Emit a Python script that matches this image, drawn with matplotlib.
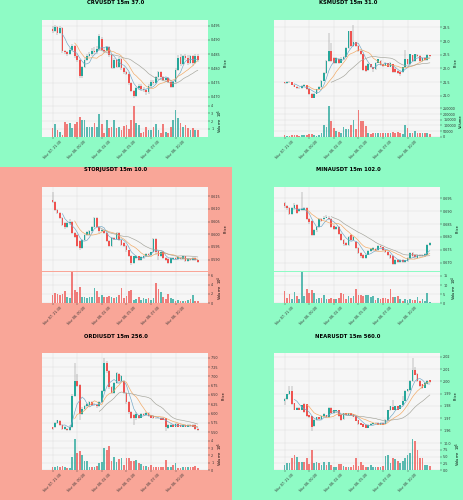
import matplotlib
matplotlib.use('Agg')
import matplotlib.pyplot as plt
from matplotlib.ticker import MultipleLocator, MaxNLocator, FormatStrFormatter
import numpy as np
import pandas as pd

# ── shared x axis (15m candles) ───────────────────────────────
xtick_pos = [0, 10, 20, 30, 40, 50]
xtick_labels = ['Nov 07, 21:30', 'Nov 08, 00:00', 'Nov 08, 02:30',
                'Nov 08, 05:00', 'Nov 08, 07:30', 'Nov 08, 10:00']

# ── CRVUSDT ───────────────────────────────────────────────────
crv_open = [.4940, .4930, .4945, .4925, .4942, .4860, .4856, .4850, .4864, .4878,
            .4842, .4828, .4772, .4806, .4830, .4845, .4850, .4862, .4856, .4868,
            .4905, .4866, .4862, .4874, .4846, .4802, .4830, .4806, .4834, .4800,
            .4786, .4782, .4748, .4722, .4702, .4730, .4740, .4728, .4724, .4718,
            .4740, .4752, .4748, .4770, .4786, .4770, .4760, .4766, .4754, .4736,
            .4752, .4796, .4840, .4816, .4842, .4838, .4818, .4842, .4818, .4844]
crv_close = [.4930, .4945, .4925, .4942, .4860, .4856, .4850, .4864, .4878, .4842,
             .4828, .4772, .4806, .4830, .4845, .4850, .4862, .4856, .4868, .4914,
             .4866, .4862, .4874, .4846, .4802, .4830, .4806, .4834, .4800, .4786,
             .4782, .4748, .4722, .4702, .4730, .4740, .4728, .4724, .4718, .4740,
             .4752, .4748, .4770, .4786, .4770, .4760, .4766, .4754, .4736, .4752,
             .4796, .4836, .4816, .4842, .4838, .4818, .4842, .4818, .4844, .4828]
crv_high = [.4948, .4952, .4950, .4948, .4945, .4866, .4860, .4870, .4885, .4882,
            .4850, .4832, .4810, .4836, .4852, .4858, .4870, .4875, .4880, .4920,
            .4910, .4872, .4880, .4878, .4850, .4836, .4834, .4840, .4838, .4806,
            .4792, .4786, .4752, .4726, .4735, .4746, .4744, .4734, .4728, .4744,
            .4758, .4758, .4774, .4790, .4790, .4774, .4770, .4770, .4758, .4756,
            .4800, .4848, .4850, .4848, .4850, .4846, .4848, .4846, .4850, .4852]
crv_low = [.4925, .4928, .4918, .4920, .4855, .4850, .4845, .4846, .4860, .4838,
           .4822, .4768, .4768, .4800, .4826, .4840, .4845, .4850, .4850, .4862,
           .4860, .4855, .4858, .4840, .4798, .4798, .4800, .4802, .4795, .4780,
           .4776, .4742, .4716, .4696, .4700, .4725, .4722, .4718, .4706, .4712,
           .4736, .4742, .4744, .4766, .4764, .4756, .4754, .4748, .4730, .4732,
           .4748, .4790, .4810, .4812, .4830, .4812, .4814, .4810, .4814, .4822]
crv_vol = [1.1, 1.65, 0.8, 0.65, 0.2, 1.95, 1.65, 1.75, 1.1, 1.6,
           1.95, 2.5, 2.2, 2.1, 1.3, 1.3, 1.2, 1.8, 1.3, 2.9,
           1.65, 0.5, 2.1, 1.1, 1.2, 2.1, 1.1, 1.2, 0.9, 1.4,
           1.5, 0.95, 2.2, 4.0, 1.75, 1.5, 0.45, 0.65, 1.2, 0.8,
           0.9, 1.2, 1.65, 0.8, 0.5, 1.6, 0.6, 0.45, 1.3, 2.1,
           3.4, 2.4, 1.75, 1.3, 1.5, 1.1, 0.9, 1.1, 0.8, 0.9]

# ── KSMUSDT ───────────────────────────────────────────────────
ksm_open = [21.49, 21.47, 21.50, 21.49, 21.41, 21.33, 21.28, 21.27, 21.36, 21.38,
            21.24, 21.08, 20.94, 21.08, 21.24, 21.32, 21.56, 21.83, 22.27, 22.63,
            22.39, 22.21, 22.36, 22.21, 22.33, 22.43, 22.75, 23.35, 22.83, 22.95,
            22.81, 22.63, 22.51, 22.10, 21.95, 22.16, 22.04, 21.98, 22.21, 22.27,
            22.16, 22.10, 22.19, 22.07, 22.16, 21.98, 21.92, 21.88, 21.86, 22.04,
            22.33, 22.16, 22.48, 22.27, 22.48, 22.45, 22.27, 22.39, 22.31, 22.48]
ksm_close = [21.47, 21.50, 21.49, 21.41, 21.33, 21.28, 21.27, 21.36, 21.40, 21.24,
             21.08, 20.94, 21.08, 21.24, 21.32, 21.56, 21.83, 22.27, 22.63, 22.27,
             22.21, 22.39, 22.21, 22.36, 22.43, 22.75, 23.35, 22.83, 22.95, 22.81,
             22.63, 22.51, 21.95, 21.92, 22.16, 22.04, 21.98, 22.21, 22.33, 22.12,
             22.10, 22.21, 22.07, 22.19, 21.88, 21.86, 21.83, 21.80, 22.04, 22.33,
             22.16, 22.51, 22.27, 22.51, 22.45, 22.27, 22.39, 22.31, 22.48, 22.45]
ksm_high = [21.52, 21.53, 21.53, 21.50, 21.42, 21.35, 21.31, 21.38, 21.42, 21.40,
            21.26, 21.10, 21.10, 21.26, 21.35, 21.58, 21.86, 22.30, 23.31, 22.93,
            22.42, 22.42, 22.39, 22.40, 22.46, 22.78, 23.38, 23.36, 23.58, 22.98,
            22.84, 22.66, 22.54, 22.12, 22.19, 22.18, 22.06, 22.24, 22.36, 22.30,
            22.18, 22.24, 22.21, 22.22, 22.18, 22.00, 21.94, 21.90, 22.06, 22.69,
            22.36, 22.54, 22.50, 22.54, 22.52, 22.48, 22.42, 22.42, 22.52, 22.50]
ksm_low = [21.44, 21.45, 21.47, 21.39, 21.31, 21.26, 21.25, 21.25, 21.34, 21.22,
           21.05, 20.92, 20.92, 21.06, 21.22, 21.30, 21.54, 21.80, 22.25, 22.24,
           22.18, 22.18, 22.18, 22.19, 22.30, 22.40, 22.72, 22.80, 22.80, 22.78,
           22.60, 22.48, 21.92, 21.86, 21.92, 22.00, 21.86, 21.96, 22.19, 22.10,
           22.06, 22.08, 22.04, 22.05, 21.85, 21.83, 21.80, 21.72, 21.83, 22.02,
           22.13, 22.14, 22.24, 22.25, 22.42, 22.24, 22.25, 22.29, 22.29, 22.43]
ksm_vol = [15000, 9000, 9000, 15000, 15000, 12000, 9000, 12000, 18000, 15000,
           24000, 24000, 12000, 9000, 15000, 30000, 104000, 83000, 274000, 134000,
           75000, 54000, 45000, 36000, 83000, 66000, 66000, 104000, 143000, 66000,
           238000, 134000, 134000, 95000, 36000, 24000, 36000, 30000, 36000, 36000,
           36000, 30000, 30000, 36000, 45000, 36000, 45000, 30000, 24000, 104000,
           75000, 36000, 30000, 54000, 36000, 36000, 30000, 30000, 30000, 24000]

# ── STORJUSDT ─────────────────────────────────────────────────
storj_open = [.6134, .6128, .6095, .6082, .6063, .6043, .6028, .6043, .6050, .6004,
              .5998, .5972, .5946, .5978, .5998, .5998, .6011, .6030, .6063, .6030,
              .6011, .6013, .6004, .5972, .5952, .5985, .5981, .6004, .5978, .5965,
              .5955, .5937, .5916, .5887, .5907, .5913, .5897, .5907, .5916, .5922,
              .5920, .5929, .5981, .5933, .5916, .5929, .5907, .5903, .5887, .5903,
              .5907, .5903, .5907, .5903, .5913, .5894, .5903, .5900, .5906, .5897]
storj_close = [.6128, .6095, .6082, .6063, .6037, .6028, .6043, .6050, .6004, .5991,
               .5952, .5946, .5978, .5998, .6007, .6011, .6030, .6063, .6030, .6011,
               .6017, .6004, .5972, .5952, .5985, .5981, .6004, .5978, .5959, .5955,
               .5937, .5916, .5887, .5913, .5913, .5897, .5911, .5916, .5922, .5920,
               .5929, .5981, .5929, .5916, .5929, .5907, .5900, .5887, .5907, .5907,
               .5903, .5910, .5903, .5913, .5894, .5903, .5900, .5906, .5897, .5891]
storj_high = [.6167, .6132, .6100, .6086, .6066, .6048, .6048, .6060, .6054, .6008,
              .6002, .5976, .5982, .6002, .6012, .6016, .6034, .6068, .6066, .6034,
              .6022, .6018, .6008, .5976, .5990, .5990, .6008, .6008, .5982, .5968,
              .5958, .5940, .5920, .5916, .5918, .5916, .5914, .5920, .5926, .5926,
              .5932, .5984, .5984, .5936, .5932, .5932, .5910, .5906, .5910, .5910,
              .5910, .5914, .5910, .5916, .5916, .5906, .5906, .5910, .5910, .5900]
storj_low = [.6124, .6090, .6078, .6058, .6032, .6022, .6024, .6038, .6000, .5986,
             .5948, .5940, .5942, .5974, .5994, .5994, .6006, .6026, .6026, .6006,
             .6008, .6000, .5968, .5948, .5948, .5976, .5978, .5974, .5955, .5950,
             .5932, .5910, .5880, .5882, .5904, .5894, .5894, .5904, .5912, .5916,
             .5916, .5926, .5920, .5900, .5912, .5904, .5896, .5884, .5884, .5900,
             .5900, .5900, .5900, .5900, .5890, .5890, .5896, .5896, .5894, .5888]
storj_vol = [1.8, 2.2, 2.05, 1.8, 2.05, 2.55, 1.3, 1.2, 6.6, 2.9,
             2.35, 3.5, 1.3, 1.25, 1.1, 1.3, 1.45, 3.3, 2.55, 1.45,
             1.8, 1.45, 1.3, 1.6, 1.45, 1.1, 1.3, 1.8, 3.3, 1.1,
             1.6, 2.55, 2.8, 0.75, 0.9, 1.3, 0.75, 1.1, 0.9, 1.1,
             0.75, 1.1, 4.25, 3.1, 2.35, 1.45, 0.9, 2.05, 1.1, 0.9,
             0.6, 0.75, 0.6, 0.6, 0.6, 0.75, 0.9, 1.8, 0.6, 0.4]

# ── MINAUSDT ──────────────────────────────────────────────────
mina_open = [.6931, .6919, .6912, .6888, .6912, .6925, .6900, .6904, .6906, .6912,
             .6869, .6862, .6809, .6825, .6838, .6869, .6869, .6875, .6875, .6869,
             .6844, .6831, .6838, .6812, .6788, .6775, .6769, .6809, .6788, .6781,
             .6756, .6738, .6731, .6719, .6731, .6746, .6750, .6754, .6750, .6765,
             .6759, .6750, .6741, .6731, .6725, .6696, .6712, .6704, .6712, .6704,
             .6706, .6719, .6738, .6731, .6719, .6731, .6725, .6728, .6731, .6769]
mina_close = [.6919, .6912, .6888, .6912, .6925, .6894, .6909, .6909, .6912, .6869,
              .6856, .6809, .6825, .6838, .6869, .6862, .6875, .6879, .6869, .6838,
              .6831, .6838, .6812, .6788, .6771, .6769, .6800, .6788, .6800, .6756,
              .6738, .6725, .6719, .6731, .6746, .6754, .6756, .6746, .6765, .6759,
              .6750, .6741, .6731, .6719, .6696, .6712, .6704, .6712, .6704, .6709,
              .6719, .6738, .6725, .6721, .6731, .6725, .6731, .6734, .6769, .6775]
mina_high = [.6936, .6922, .6915, .6916, .6930, .6928, .6914, .6975, .6916, .6915,
             .6872, .6866, .6830, .6842, .6872, .6874, .6880, .6884, .6880, .6872,
             .6848, .6842, .6842, .6816, .6792, .6780, .6804, .6812, .6804, .6785,
             .6760, .6742, .6734, .6734, .6750, .6758, .6760, .6758, .6770, .6768,
             .6762, .6754, .6744, .6734, .6728, .6716, .6715, .6715, .6715, .6712,
             .6722, .6742, .6742, .6734, .6734, .6734, .6734, .6736, .6772, .6780]
mina_low = [.6914, .6906, .6884, .6884, .6906, .6890, .6896, .6900, .6900, .6864,
            .6850, .6804, .6804, .6820, .6834, .6858, .6864, .6872, .6864, .6834,
            .6826, .6826, .6808, .6784, .6766, .6764, .6764, .6784, .6784, .6752,
            .6734, .6720, .6714, .6714, .6728, .6742, .6746, .6742, .6746, .6756,
            .6746, .6736, .6726, .6714, .6692, .6692, .6700, .6700, .6700, .6700,
            .6702, .6716, .6720, .6716, .6716, .6720, .6722, .6724, .6728, .6766]
mina_vol = [6.6, 2.8, 5.3, 2.3, 6.0, 4.2, 2.3, 17.0, 3.8, 7.6,
            5.7, 7.2, 5.7, 2.3, 2.8, 2.8, 4.7, 2.3, 2.3, 2.8,
            2.3, 2.3, 2.8, 5.7, 5.3, 2.3, 3.8, 2.8, 3.8, 7.6,
            4.7, 4.7, 4.2, 4.7, 4.7, 3.4, 3.8, 1.9, 2.8, 2.3,
            2.8, 2.8, 2.3, 7.9, 3.4, 3.4, 4.2, 2.3, 1.5, 2.3,
            1.9, 2.3, 1.9, 1.9, 3.4, 1.5, 2.3, 1.5, 5.7, 1.0]

# ── ORDIUSDT ──────────────────────────────────────────────────
ordi_open = [5.63, 5.63, 5.75, 5.80, 5.69, 5.58, 5.58, 5.56, 5.63, 6.48,
             6.87, 6.78, 6.00, 6.13, 6.19, 6.24, 6.30, 6.22, 6.24, 6.19,
             6.30, 6.61, 7.35, 7.13, 6.70, 6.56, 6.83, 7.06, 6.87, 6.87,
             6.56, 6.30, 6.04, 5.95, 5.87, 5.95, 5.89, 6.00, 5.95, 6.01,
             5.95, 5.93, 5.89, 5.89, 5.89, 5.89, 5.87, 5.60, 5.65, 5.69,
             5.65, 5.72, 5.69, 5.65, 5.69, 5.65, 5.69, 5.69, 5.69, 5.59]
ordi_close = [5.59, 5.75, 5.82, 5.69, 5.58, 5.63, 5.56, 5.65, 6.48, 6.87,
              6.74, 6.00, 6.13, 6.19, 6.26, 6.30, 6.22, 6.24, 6.19, 6.30,
              6.61, 7.35, 7.13, 6.70, 6.56, 6.83, 7.09, 6.87, 7.00, 6.56,
              6.30, 6.04, 5.89, 5.87, 6.00, 5.89, 5.98, 5.95, 6.01, 5.93,
              5.89, 5.87, 5.87, 5.87, 5.84, 5.84, 5.65, 5.69, 5.69, 5.65,
              5.72, 5.65, 5.65, 5.69, 5.65, 5.69, 5.66, 5.65, 5.59, 5.56]
ordi_high = [5.65, 5.77, 5.84, 5.82, 5.71, 5.66, 5.61, 5.70, 6.52, 7.35,
             7.05, 6.80, 6.17, 6.22, 6.28, 6.34, 6.33, 6.28, 6.27, 6.33,
             6.64, 7.48, 7.40, 7.16, 6.73, 6.86, 7.12, 7.08, 7.03, 6.89,
             6.58, 6.33, 6.06, 5.98, 6.03, 5.97, 6.01, 6.02, 6.04, 6.03,
             5.97, 5.95, 5.91, 5.91, 5.91, 5.91, 5.89, 5.72, 5.72, 5.72,
             5.75, 5.74, 5.71, 5.72, 5.71, 5.71, 5.71, 5.71, 5.71, 5.61]
ordi_low = [5.56, 5.61, 5.73, 5.67, 5.56, 5.55, 5.54, 5.54, 5.60, 6.45,
            6.70, 5.84, 5.97, 6.10, 6.15, 6.21, 6.19, 6.19, 6.16, 6.17,
            6.28, 6.58, 7.10, 6.66, 6.52, 6.53, 6.80, 6.84, 6.84, 6.52,
            6.26, 6.00, 5.85, 5.69, 5.84, 5.86, 5.87, 5.93, 5.93, 5.91,
            5.87, 5.85, 5.85, 5.85, 5.82, 5.82, 5.52, 5.58, 5.63, 5.63,
            5.63, 5.63, 5.63, 5.63, 5.63, 5.63, 5.64, 5.63, 5.57, 5.54]
ordi_vol = [0.46, 0.37, 0.55, 0.37, 0.55, 0.37, 0.23, 0.23, 1.84, 4.24,
            2.30, 2.53, 2.07, 1.29, 1.29, 0.46, 0.37, 0.46, 0.55, 0.92,
            1.15, 3.00, 2.76, 3.23, 1.29, 1.84, 1.15, 1.47, 1.61, 0.69,
            1.61, 1.61, 1.29, 1.29, 1.38, 1.01, 0.83, 0.55, 0.55, 0.37,
            0.69, 0.37, 0.37, 0.46, 0.37, 0.37, 1.38, 0.37, 0.46, 0.69,
            1.01, 0.23, 0.23, 0.37, 0.37, 0.46, 0.37, 0.46, 0.55, 0.30]

# ── NEARUSDT ──────────────────────────────────────────────────
near_open = [1.9838, 1.9856, 1.9896, 1.9922, 1.9822, 1.9769, 1.9785, 1.9769, 1.9817, 1.9811,
             1.9724, 1.9716, 1.9636, 1.9684, 1.9706, 1.9690, 1.9716, 1.9724, 1.9706, 1.9785,
             1.9738, 1.9759, 1.9764, 1.9724, 1.9690, 1.9738, 1.9724, 1.9738, 1.9732, 1.9716,
             1.9684, 1.9658, 1.9650, 1.9644, 1.9623, 1.9644, 1.9650, 1.9658, 1.9663, 1.9644,
             1.9663, 1.9652, 1.9684, 1.9764, 1.9790, 1.9769, 1.9795, 1.9777, 1.9803, 1.9843,
             1.9922, 1.9928, 2.0002, 2.0094, 2.0060, 2.0002, 1.9975, 1.9949, 1.9980, 2.0007]
near_close = [1.9856, 1.9896, 1.9922, 1.9817, 1.9769, 1.9785, 1.9769, 1.9803, 1.9751, 1.9716,
              1.9706, 1.9631, 1.9684, 1.9706, 1.9690, 1.9716, 1.9732, 1.9706, 1.9785, 1.9738,
              1.9764, 1.9764, 1.9716, 1.9684, 1.9738, 1.9724, 1.9738, 1.9724, 1.9711, 1.9679,
              1.9652, 1.9644, 1.9631, 1.9623, 1.9644, 1.9652, 1.9658, 1.9663, 1.9644, 1.9663,
              1.9644, 1.9684, 1.9764, 1.9795, 1.9769, 1.9795, 1.9769, 1.9803, 1.9843, 1.9922,
              1.9935, 2.0002, 2.0094, 2.0055, 2.0002, 1.9962, 1.9943, 1.9988, 2.0002, 1.9996]
near_high = [1.9862, 1.9900, 1.9962, 1.9962, 1.9826, 1.9790, 1.9790, 1.9810, 1.9822, 1.9816,
             1.9728, 1.9720, 1.9690, 1.9710, 1.9712, 1.9720, 1.9738, 1.9728, 1.9790, 1.9790,
             1.9770, 1.9770, 1.9768, 1.9728, 1.9742, 1.9742, 1.9742, 1.9742, 1.9736, 1.9720,
             1.9688, 1.9662, 1.9654, 1.9648, 1.9648, 1.9656, 1.9662, 1.9668, 1.9668, 1.9668,
             1.9668, 1.9690, 1.9770, 1.9800, 1.9850, 1.9800, 1.9800, 1.9808, 1.9880, 1.9928,
             1.9940, 2.0008, 2.0187, 2.0120, 2.0065, 2.0008, 1.9980, 1.9995, 2.0008, 2.0012]
near_low = [1.9803, 1.9850, 1.9890, 1.9810, 1.9762, 1.9762, 1.9764, 1.9764, 1.9745, 1.9710,
            1.9700, 1.9591, 1.9630, 1.9680, 1.9685, 1.9685, 1.9712, 1.9700, 1.9700, 1.9732,
            1.9732, 1.9754, 1.9710, 1.9678, 1.9685, 1.9720, 1.9720, 1.9720, 1.9706, 1.9674,
            1.9646, 1.9640, 1.9626, 1.9618, 1.9618, 1.9640, 1.9646, 1.9654, 1.9640, 1.9640,
            1.9640, 1.9648, 1.9680, 1.9760, 1.9764, 1.9764, 1.9764, 1.9772, 1.9798, 1.9838,
            1.9915, 1.9922, 1.9996, 2.0050, 1.9996, 1.9955, 1.9938, 1.9942, 1.9975, 1.9990]
near_vol = [1.9, 2.75, 2.5, 4.4, 5.6, 4.75, 3.1, 3.1, 3.1, 4.4,
            2.25, 7.5, 2.75, 3.1, 2.75, 1.9, 3.1, 1.9, 3.1, 1.9,
            1.25, 1.0, 2.25, 2.25, 1.5, 1.0, 1.25, 1.0, 1.9, 4.4,
            1.5, 3.1, 1.9, 1.25, 1.25, 1.9, 1.25, 1.0, 1.0, 1.0,
            1.5, 5.25, 5.6, 2.5, 4.4, 4.0, 3.5, 2.75, 3.5, 4.4,
            5.6, 6.25, 11.5, 10.6, 7.5, 4.4, 4.4, 1.9, 1.9, 1.5]

BG_GREEN = '#8efbc5'
BG_RED = '#f9a698'
UP = '#26a69a'
DOWN = '#ef5350'
MA_COLORS = ['#6fa6c6', '#f2a65e', '#a3a39a']

plt.rcParams.update({
    'font.family': ['DejaVu Sans'],
    'font.size': 2.6,
    'axes.unicode_minus': False,
})


def draw_panel(sfig, title, o, h, l, c, v, ystep, yfmt, vol_exp, vol_step=None):
    o, h, l, c, v = map(np.asarray, (o, h, l, c, v))
    x = np.arange(len(c))
    up = c >= o
    cols = np.where(up, UP, DOWN)

    sfig.text(0.5, 0.984, title, ha='center', va='center',
              fontsize=3.8, fontweight='bold')

    ax = sfig.add_axes([0.181, 0.372, 0.716, 0.508])
    axv = sfig.add_axes([0.181, 0.18, 0.716, 0.19], sharex=ax)

    for a in (ax, axv):
        a.set_facecolor('#f6f6f6')
        a.grid(True, color='#dadada', linewidth=0.3)
        a.set_axisbelow(True)
        for s in a.spines.values():
            s.set_visible(False)
        a.yaxis.tick_right()
        a.yaxis.set_label_position('right')
        a.tick_params(length=1.2, width=0.3, pad=1.0, labelsize=2.4,
                      colors='#333333')

    # candles
    ax.vlines(x, l, h, color='#777777', linewidth=0.3, zorder=2)
    body = np.maximum(np.abs(c - o), (max(h) - min(l)) * 0.004)
    ax.bar(x, body, bottom=np.minimum(o, c), width=0.7, color=cols,
           linewidth=0, zorder=3)

    # moving averages 5 / 10 / 20
    cs = pd.Series(c)
    for w, mc in zip((5, 10, 20), MA_COLORS):
        ax.plot(x, cs.rolling(w).mean(), color=mc, linewidth=0.45, zorder=4)

    rng = max(h) - min(l)
    ax.set_ylim(min(l) - 0.09 * rng, max(h) + 0.07 * rng)
    ax.yaxis.set_major_locator(MultipleLocator(ystep))
    ax.yaxis.set_major_formatter(FormatStrFormatter(yfmt))
    ax.set_ylabel('Price', fontsize=2.6, labelpad=2)
    ax.set_xlim(-4.3, len(c) + 3.2)
    plt.setp(ax.get_xticklabels(), visible=False)
    ax.tick_params(axis='x', length=0)

    # volume
    axv.bar(x, v, width=0.7, color=cols, alpha=0.75, linewidth=0)
    axv.set_ylim(0, max(v) * 1.02)
    if vol_step:
        axv.yaxis.set_major_locator(MultipleLocator(vol_step))
    else:
        axv.yaxis.set_major_locator(MaxNLocator(5, prune='lower'))
    if vol_exp:
        axv.set_ylabel('Volume  $10^{%d}$' % vol_exp, fontsize=2.6, labelpad=2)
    else:
        axv.set_ylabel('Volume', fontsize=2.6, labelpad=2)

    axv.set_xticks(xtick_pos)
    axv.set_xticklabels(xtick_labels, rotation=45, ha='center')


fig = plt.figure(figsize=(4.64, 5.0), dpi=100)
sfigs = fig.subfigures(3, 2, wspace=0, hspace=0)

panels = [
    ('CRVUSDT 15m 37.0', crv_open, crv_high, crv_low, crv_close, crv_vol,
     0.005, '%.3f', 5, None, BG_GREEN),
    ('KSMUSDT 15m 31.0', ksm_open, ksm_high, ksm_low, ksm_close, ksm_vol,
     0.5, '%.1f', 0, 50000, BG_GREEN),
    ('STORJUSDT 15m 10.0', storj_open, storj_high, storj_low, storj_close, storj_vol,
     0.005, '%.3f', 4, 2, BG_RED),
    ('MINAUSDT 15m 102.0', mina_open, mina_high, mina_low, mina_close, mina_vol,
     0.005, '%.3f', 4, 5, BG_GREEN),
    ('ORDIUSDT 15m 256.0', ordi_open, ordi_high, ordi_low, ordi_close, ordi_vol,
     0.25, '%.2f', 5, 1, BG_RED),
    ('NEARUSDT 15m 560.0', near_open, near_high, near_low, near_close, near_vol,
     0.01, '%.2f', 5, 2.5, BG_GREEN),
]

for sf, p in zip(sfigs.flat, panels):
    title, o, h, l, c, v, ystep, yfmt, vexp, vstep, bg = p
    sf.set_facecolor(bg)
    draw_panel(sf, title, o, h, l, c, v, ystep, yfmt, vexp, vstep)

fig.savefig('out.png', dpi=100, facecolor=fig.get_facecolor())
